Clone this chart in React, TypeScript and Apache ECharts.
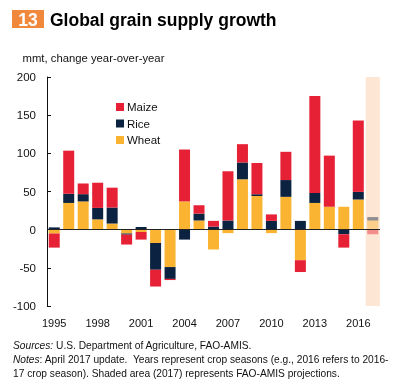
import React, { useEffect, useRef } from "react";
import * as echarts from "echarts";

const years = ["1995","1996","1997","1998","1999","2000","2001","2002","2003","2004","2005","2006","2007","2008","2009","2010","2011","2012","2013","2014","2015","2016","2017"];
const wheat = [-5, 35, 37, 13.5, 8, -5, -3, -17.5, -49, 37, 12, -26, -4.5, 66, 44, -4.5, 43, -40, 35, 30, 30, 39.5, 12];
const rice = [3, 12, 9.5, 15, 21, -1.5, 3.5, -35, -15.5, -13, 9, 4, 12, 22, 2.5, 11.5, 22, 11.5, 13, 0, -6, 10, 4.5];
const maize = [-18.5, 56.5, 14, 33, 26, -13, -10, -22, -1.5, 68, 11, 7.5, 64.5, 24, 41, 8.5, 37, -15.5, 127, 67, -17.5, 93.5, -6];
const projectedYear = "2017";
const shadeTop = 200;
const shadeBottom = -100;

const FONT = "'Liberation Sans', Arial, Helvetica, sans-serif";
const C_MAIZE = "#E62136";
const C_RICE = "#0B2341";
const C_WHEAT = "#FAB431";
const C_SHADE = "#FDE6D4";

function withProjection(arr: number[]) {
  return arr.map((v, i) =>
    years[i] === projectedYear ? { value: v, itemStyle: { opacity: 0.45 } } : v
  );
}

export default function App() {
  const ref = useRef<HTMLDivElement>(null);
  useEffect(() => {
    if (!ref.current) return;
    const chart = echarts.init(ref.current, undefined, { renderer: "svg" });
    const shadeUp = years.map((y) => (y === projectedYear ? shadeTop : null));
    const shadeDown = years.map((y) => (y === projectedYear ? shadeBottom : null));
    chart.setOption({
      animation: false,
      textStyle: { fontFamily: FONT },
      grid: { left: 47, right: 20, top: 77, bottom: 84, containLabel: false },
      legend: {
        data: ["Maize", "Rice", "Wheat"],
        orient: "vertical",
        left: 111,
        top: 95,
        icon: "rect",
        itemWidth: 8,
        itemHeight: 8,
        itemGap: 2.5,
        textStyle: { fontSize: 11.5, color: "#111", fontFamily: FONT, lineHeight: 14, padding: [0, 0, 0, -2] },
      },
      xAxis: [
        {
          type: "category",
          data: years,
          position: "bottom",
          axisLine: { show: false },
          axisTick: { show: false },
          axisLabel: { interval: 2, fontSize: 11, color: "#111", margin: 11, fontFamily: FONT },
        },
        { type: "category", data: years, show: false },
      ],
      yAxis: {
        type: "value",
        min: -100,
        max: 200,
        interval: 50,
        axisLine: { show: true, lineStyle: { color: "#111", width: 1 } },
        axisTick: { show: true, inside: true, length: 4, lineStyle: { color: "#111" } },
        axisLabel: { fontSize: 11.5, color: "#111", margin: 11, fontFamily: FONT },
        splitLine: { show: false },
      },
      series: [
        { name: "shadeUp", type: "bar", xAxisIndex: 1, stack: "shade", data: shadeUp, barWidth: "97%", itemStyle: { color: C_SHADE }, z: 1, silent: true },
        { name: "shadeDown", type: "bar", xAxisIndex: 1, stack: "shade", data: shadeDown, barWidth: "97%", itemStyle: { color: C_SHADE }, z: 1, silent: true },
        { name: "Wheat", type: "bar", stack: "grain", data: withProjection(wheat), barWidth: 11, itemStyle: { color: C_WHEAT }, z: 2 },
        { name: "Rice", type: "bar", stack: "grain", data: withProjection(rice), barWidth: 11, itemStyle: { color: C_RICE }, z: 2 },
        {
          name: "Maize", type: "bar", stack: "grain", data: withProjection(maize), barWidth: 11, itemStyle: { color: C_MAIZE }, z: 3,
          markLine: {
            silent: true,
            symbol: "none",
            label: { show: false },
            lineStyle: { color: "#222", width: 1.2, type: "solid" },
            data: [{ yAxis: 0 }],
          },
        },
      ],
      graphic: [
        { type: "rect", shape: { x: 12, y: 10, width: 32, height: 18 }, style: { fill: "#F0893C" } },
        { type: "text", x: 28, y: 19.5, style: { text: "13", fill: "#fff", font: `bold 17.5px ${FONT}`, textAlign: "center", textVerticalAlign: "middle" } },
        { type: "text", x: 50, y: 19.5, style: { text: "Global grain supply growth", fill: "#000", font: `bold 17.5px ${FONT}`, textAlign: "left", textVerticalAlign: "middle" } },
        { type: "text", x: 22.5, y: 58, style: { text: "mmt, change year-over-year", fill: "#111", font: `11.3px ${FONT}`, textAlign: "left", textVerticalAlign: "middle" } },
        {
          type: "text", x: 13, y: 345,
          style: {
            text: "{i|Sources:} U.S. Department of Agriculture, FAO-AMIS.",
            font: `10.2px ${FONT}`, fill: "#111", textVerticalAlign: "middle",
            rich: { i: { fontStyle: "italic", fontSize: 10.2, fontFamily: FONT, fill: "#111" } },
          },
        },
        {
          type: "text", x: 13, y: 359.5,
          style: {
            text: "{i|Notes}: April 2017 update.  Years represent crop seasons (e.g., 2016 refers to 2016-",
            font: `10.2px ${FONT}`, fill: "#111", textVerticalAlign: "middle",
            rich: { i: { fontStyle: "italic", fontSize: 10.2, fontFamily: FONT, fill: "#111" } },
          },
        },
        {
          type: "text", x: 13, y: 373,
          style: {
            text: "17 crop season). Shaded area (2017) represents FAO-AMIS projections.",
            font: `10.2px ${FONT}`, fill: "#111", textVerticalAlign: "middle",
          },
        },
      ],
    });
    return () => chart.dispose();
  }, []);
  return <div ref={ref} style={{ position: "fixed", left: 0, top: 0, width: 400, height: 390 }} />;
}
